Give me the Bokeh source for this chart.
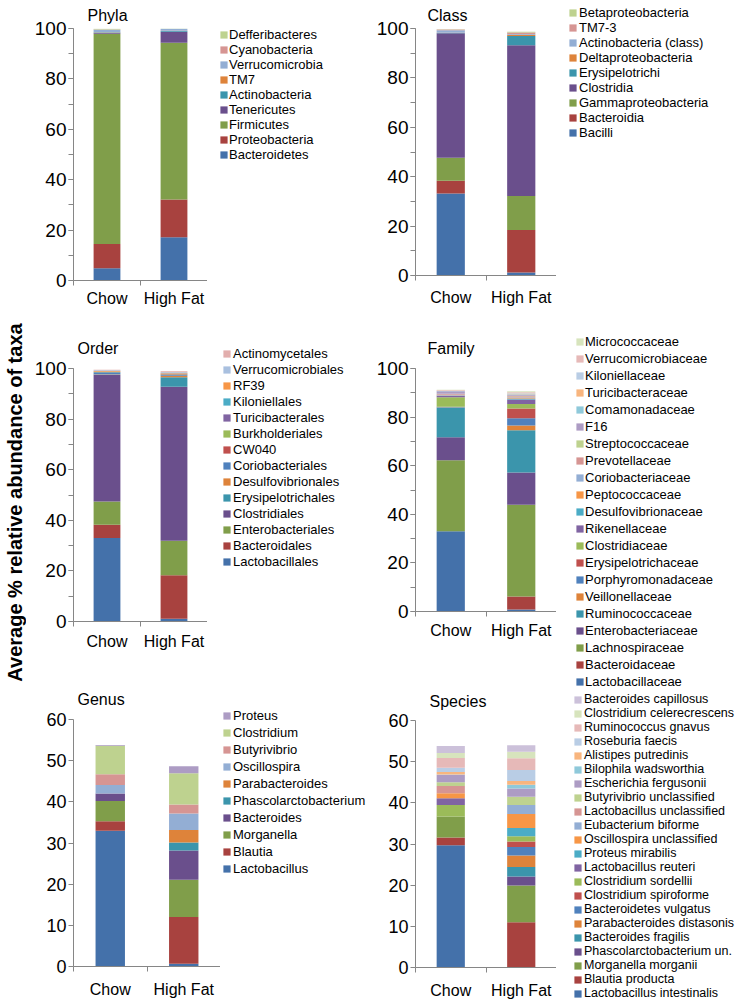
from bokeh.plotting import figure
from bokeh.layouts import row, column
from bokeh.models import (ColumnDataSource, Range1d, FixedTicker, SingleIntervalTicker,
                          Legend, LegendItem, Title)
from bokeh.core.properties import value
from bokeh.embed import file_html
from bokeh.resources import INLINE

FONT = "Liberation Sans"
groups = ["Chow", "High Fat"]

# ---------------- data (bottom of stack first) ----------------
phyla_names = ["Bacteroidetes", "Proteobacteria", "Firmicutes", "Tenericutes", "Actinobacteria",
               "TM7", "Verrucomicrobia", "Cyanobacteria", "Defferibacteres"]
phyla_chow = [4.9, 9.6, 83.4, 0.3, 0.2, 0.1, 1.0, 0.1, 0.3]
phyla_hf = [17.2, 14.9, 62.2, 4.4, 0.3, 0.1, 0.8, 0.05, 0.05]

class_names = ["Bacilli", "Bacteroidia", "Gammaproteobacteria", "Clostridia", "Erysipelotrichi",
               "Deltaproteobacteria", "Actinobacteria (class)", "TM7-3", "Betaproteobacteria"]
class_chow = [33.2, 5.2, 9.3, 50.4, 0.1, 0.1, 1.0, 0.3, 0.1]
class_hf = [1.2, 17.2, 13.8, 61.0, 3.8, 0.5, 0.3, 0.6, 0.3]

order_names = ["Lactobacillales", "Bacteroidales", "Enterobacteriales", "Clostridiales",
               "Erysipelotrichales", "Desulfovibrionales", "Coriobacteriales", "CW040",
               "Burkholderiales", "Turicibacterales", "Kiloniellales", "RF39",
               "Verrucomicrobiales", "Actinomycetales"]
order_chow = [33.0, 5.2, 9.2, 50.1, 0.1, 0.1, 0.8, 0.05, 0.05, 0.05, 0.05, 0.3, 0.3, 0.2]
order_hf = [1.05, 17.2, 13.7, 60.8, 3.8, 0.6, 0.4, 0.2, 0.1, 0.1, 0.1, 0.3, 0.3, 0.3]

family_names = ["Lactobacillaceae", "Bacteroidaceae", "Lachnospiraceae", "Enterobacteriaceae",
                "Ruminococcaceae", "Veillonellaceae", "Porphyromonadaceae", "Erysipelotrichaceae",
                "Clostridiaceae", "Rikenellaceae", "Desulfovibrionaceae", "Peptococcaceae",
                "Coriobacteriaceae", "Prevotellaceae", "Streptococcaceae", "F16",
                "Comamonadaceae", "Turicibacteraceae", "Kiloniellaceae", "Verrucomicrobiaceae",
                "Micrococcaceae"]
family_chow = [33.0, 0.0, 29.2, 9.5, 12.3, 0.1, 0.2, 0.0, 3.9, 0.6, 0.1, 0.1,
               0.2, 0.3, 0.1, 1.0, 0.1, 0.2, 0.1, 0.2, 0.1]
family_hf = [0.8, 5.4, 37.7, 13.3, 17.4, 1.9, 3.0, 4.0, 1.9, 1.8, 0.5, 0.2,
             0.2, 0.5, 0.2, 0.4, 0.2, 0.3, 0.2, 0.3, 0.4]

genus_names = ["Lactobacillus", "Blautia", "Morganella", "Bacteroides", "Phascolarctobacterium",
               "Parabacteroides", "Oscillospira", "Butyrivibrio", "Clostridium", "Proteus"]
genus_chow = [33.0, 2.3, 4.9, 1.8, 0.0, 0.0, 2.1, 2.6, 6.9, 0.2]
genus_hf = [0.65, 11.4, 9.0, 7.1, 2.0, 3.0, 4.0, 2.2, 7.6, 1.7]

species_names = ["Lactobacillus intestinalis", "Blautia producta", "Morganella morganii",
                 "Phascolarctobacterium un.", "Bacteroides fragilis", "Parabacteroides distasonis",
                 "Bacteroidetes vulgatus", "Clostridium spiroforme", "Clostridium sordellii",
                 "Lactobacillus reuteri", "Proteus mirabilis", "Oscillospira unclassified",
                 "Eubacterium biforme", "Lactobacillus unclassified", "Butyrivibrio unclassified",
                 "Escherichia fergusonii", "Bilophila wadsworthia", "Alistipes putredinis",
                 "Roseburia faecis", "Ruminococcus gnavus", "Clostridium celerecrescens",
                 "Bacteroides capillosus"]
species_chow = [29.7, 1.9, 5.1, 0.0, 0.0, 0.0, 0.0, 0.0, 2.8, 1.6, 0.0, 1.2,
                0.0, 1.8, 0.9, 1.8, 0.1, 0.6, 1.0, 2.4, 1.2, 1.7]
species_hf = [0.1, 10.9, 8.9, 2.2, 2.3, 2.8, 2.1, 1.3, 1.3, 0.0, 2.0, 3.4,
              2.2, 0.0, 2.0, 2.0, 0.9, 0.9, 2.7, 2.8, 1.6, 1.6]

# ---------------- colours ----------------
SHADE = ["#4471AA", "#A8423F", "#809E4A", "#6A4F8C", "#3B95AC", "#DE833A"]
NORMAL = ["#4F81BD", "#C0504D", "#9BBB59", "#8064A2", "#4BACC6", "#F79646"]
TINT = ["#93AED4", "#D69593", "#BED28F", "#AD9CC4", "#8FC9DA", "#F8B57E"]
LIGHT = ["#B9CDE5", "#E6B9B8", "#D7E4BD", "#CCC1DA", "#B7DEE8", "#FCD5B5"]
ORDER_TINT = ["#A9C0DF", "#E2AEAD"]

phyla_colors = SHADE + TINT[:3]
class_colors = SHADE + TINT[:3]
order_colors = SHADE + NORMAL + ORDER_TINT
family_colors = SHADE + NORMAL + TINT + LIGHT[:3]
genus_colors = SHADE + TINT[:4]
species_colors = SHADE + NORMAL + TINT + LIGHT[:4]

AXIS_COLOR = "#868686"


def make_source(names, chow, hf):
    keys = ["s%d" % i for i in range(len(names))]
    data = {"x": [i + 0.5 for i in range(len(groups))]}
    for k, a, b in zip(keys, chow, hf):
        data[k] = [a, b]
    return keys, ColumnDataSource(data)


def make_panel(title, names, chow, hf, colors, ymax, y_interval, y_minor, g, lg):
    keys, src = make_source(names, chow, hf)

    # ---- the chart itself ----
    p = figure(width=g["w"], height=g["h"], output_backend="svg", toolbar_location=None,
               x_range=Range1d(0, len(groups)), y_range=Range1d(0, ymax),
               min_border_left=g["bl"], min_border_right=0,
               min_border_top=g["bt"], min_border_bottom=g["bb"], title=title)
    p.frame_align = False
    p.outline_line_color = None
    p.xgrid.visible = False
    p.ygrid.visible = False
    p.title.text_font = FONT
    p.title.text_font_size = "16px"
    p.title.text_font_style = "normal"
    p.title.text_color = "#000000"
    p.title.align = "left"
    p.title.offset = g["toff"]
    p.title.standoff = g["tst"]

    p.vbar_stack(keys, x="x", width=0.4, fill_color=colors, line_color=None, source=src)

    xa = p.xaxis[0]
    xa.ticker = FixedTicker(ticks=[i + 0.5 for i in range(len(groups))],
                            minor_ticks=list(range(len(groups) + 1)))
    xa.major_label_overrides = {i + 0.5: grp for i, grp in enumerate(groups)}
    xa.major_tick_line_color = None
    xa.major_tick_out = 5
    xa.minor_tick_line_color = AXIS_COLOR
    xa.minor_tick_out = 5
    xa.minor_tick_in = 0
    xa.axis_line_color = AXIS_COLOR
    xa.major_label_standoff = g["xst"]
    xa.major_label_text_font_size = "16px"

    ya = p.yaxis[0]
    ya.ticker = SingleIntervalTicker(interval=y_interval, num_minor_ticks=y_minor)
    ya.major_tick_out = 5
    ya.major_tick_in = 0
    ya.minor_tick_out = 5
    ya.minor_tick_in = 0
    ya.major_tick_line_color = AXIS_COLOR
    ya.minor_tick_line_color = AXIS_COLOR if y_minor else None
    ya.axis_line_color = AXIS_COLOR
    ya.major_label_standoff = 2
    ya.major_label_text_font_size = g["yfs"]

    for ax in (xa, ya):
        ax.major_label_text_font = FONT
        ax.major_label_text_color = "#000000"

    # ---- the legend, in its own figure to the right ----
    q = figure(width=lg["w"], height=lg["h"], output_backend="svg", toolbar_location=None,
               x_range=Range1d(0, 1), y_range=Range1d(1000, 1001),
               x_axis_location=None, y_axis_location=None,
               min_border_left=0, min_border_right=0, min_border_top=0, min_border_bottom=0)
    q.frame_align = False
    q.outline_line_color = None
    q.xgrid.visible = False
    q.ygrid.visible = False
    key_rends = q.vbar_stack(keys, x="x", width=0.4, fill_color=colors, line_color=None,
                             source=src)
    for r in key_rends:
        r.visible = False
    n = len(names)
    leg_top = lg["lc"] - lg["pitch"] / 2.0
    leg_bottom = leg_top + n * lg["pitch"]
    loc = (lg["lx"] - lg["left"], lg["top"] + lg["h"] - leg_bottom)
    items = [LegendItem(label=value(nm), renderers=[r]) for nm, r in zip(names, key_rends)][::-1]
    leg = Legend(items=items, location=loc, glyph_width=9, glyph_height=9,
                 label_height=lg["pitch"], spacing=0, label_standoff=lg["lst"],
                 label_text_font=FONT, label_text_font_size=lg["lfs"],
                 label_text_color="#000000", border_line_color=None,
                 background_fill_alpha=0, margin=0, padding=0,
                 inactive_fill_alpha=0)
    q.add_layout(leg, "center")
    return p, q


# geometry (image pixel coordinates of the reference)
G_phyla = dict(w=181, h=318, bl=47, bt=27, bb=38, toff=14, tst=9, xst=4, yfs="19px")
L_phyla = dict(left=207, top=0, w=165, h=318, lx=219, lc=34, pitch=15, lst=1, lfs="13px")
G_order = dict(w=181, h=340, bl=47, bt=50, bb=37, toff=4, tst=23, xst=6, yfs="19px")
L_order = dict(left=207, top=318, w=165, h=340, lx=222, lc=353, pitch=16, lst=2, lfs="13px")
G_genus = dict(w=194, h=346, bl=47, bt=61, bb=38, toff=4, tst=24, xst=9, yfs="18px")
L_genus = dict(left=220, top=658, w=152, h=346, lx=222, lc=715, pitch=17, lst=2, lfs="13px")
G_class = dict(w=184, h=318, bl=43, bt=28, bb=43, toff=12, tst=9, xst=8, yfs="19px")
L_class = dict(left=556, top=0, w=188, h=318, lx=568, lc=12, pitch=15, lst=2, lfs="13px")
G_family = dict(w=184, h=362, bl=43, bt=50, bb=69, toff=12, tst=23, xst=5, yfs="19px")
L_family = dict(left=556, top=318, w=188, h=372, lx=575, lc=341.5, pitch=17, lst=1, lfs="13px")
G_species = dict(w=184, h=324, bl=43, bt=40, bb=37, toff=14, tst=21, xst=9, yfs="18px")
L_species = dict(left=556, top=690, w=188, h=314, lx=573, lc=699, pitch=14, lst=2, lfs="12.5px")

p_phyla, q_phyla = make_panel("Phyla", phyla_names, phyla_chow, phyla_hf, phyla_colors,
                              100, 20, 2, G_phyla, L_phyla)
p_order, q_order = make_panel("Order", order_names, order_chow, order_hf, order_colors,
                              100, 20, 2, G_order, L_order)
p_genus, q_genus = make_panel("Genus", genus_names, genus_chow, genus_hf, genus_colors,
                              60, 10, 0, G_genus, L_genus)
p_class, q_class = make_panel("Class", class_names, class_chow, class_hf, class_colors,
                              100, 20, 2, G_class, L_class)
p_family, q_family = make_panel("Family", family_names, family_chow, family_hf, family_colors,
                                100, 20, 2, G_family, L_family)
p_species, q_species = make_panel("Species", species_names, species_chow, species_hf,
                                  species_colors, 60, 10, 0, G_species, L_species)

# shared y-axis label
p_lab = figure(width=26, height=1004, output_backend="svg", toolbar_location=None,
               x_axis_location=None, y_axis_location=None,
               min_border_left=0, min_border_right=0, min_border_top=0, min_border_bottom=0)
p_lab.frame_align = False
p_lab.outline_line_color = None
p_lab.xgrid.visible = False
p_lab.ygrid.visible = False
p_lab.add_layout(Title(text="Average % relative abundance of taxa", align="center",
                       text_font=FONT, text_font_size="20px", text_font_style="bold",
                       text_color="#000000", standoff=2), "left")

left_col = column(row(p_phyla, q_phyla), row(p_order, q_order), row(p_genus, q_genus))
right_col = column(row(p_class, q_class),
                   row(column(p_family, p_species), column(q_family, q_species)))
layout = row(p_lab, left_col, right_col)

open("out.html", "w").write(file_html(layout, INLINE))
